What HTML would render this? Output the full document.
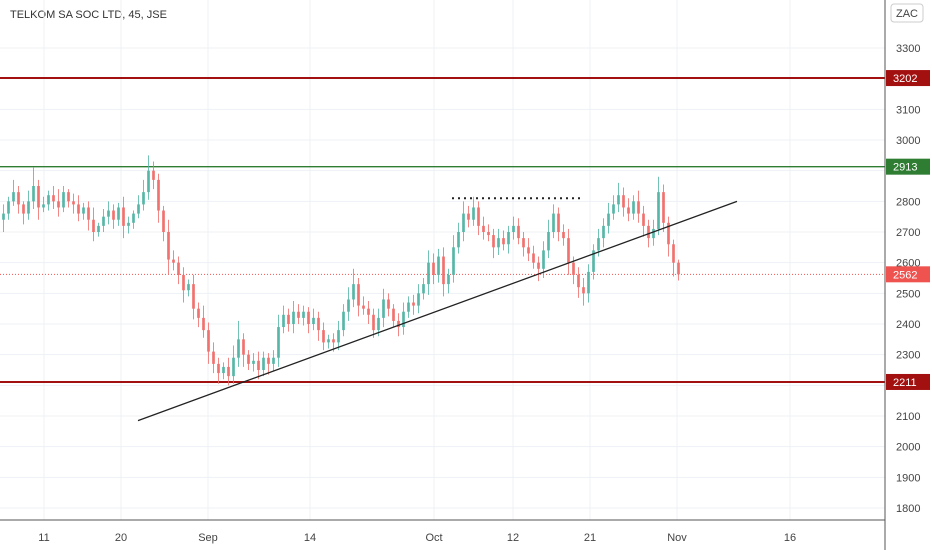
<!DOCTYPE html>
<html><head><meta charset="utf-8"><style>
body{margin:0;background:#fff;font-family:"Liberation Sans",sans-serif}
svg{display:block}
</style></head><body>
<svg id="c" width="932" height="550" xmlns="http://www.w3.org/2000/svg">
<text x="10" y="18" font-size="11" fill="#333">TELKOM SA SOC LTD, 45, JSE</text>
</svg>
<script>
const closes=[2760,2800,2830,2790,2760,2800,2850,2780,2790,2820,2800,2780,2830,2800,2790,2760,2780,2740,2700,2720,2750,2770,2740,2780,2720,2730,2760,2790,2830,2900,2870,2770,2700,2610,2600,2560,2510,2530,2450,2420,2380,2310,2270,2240,2260,2230,2290,2350,2300,2270,2280,2250,2290,2270,2290,2390,2430,2400,2440,2420,2440,2400,2420,2380,2340,2350,2340,2380,2440,2480,2530,2460,2450,2430,2380,2420,2480,2450,2410,2390,2440,2470,2460,2500,2530,2600,2560,2620,2530,2560,2650,2700,2760,2740,2780,2720,2700,2690,2650,2680,2660,2700,2720,2680,2650,2630,2600,2580,2640,2700,2760,2700,2680,2600,2560,2520,2500,2570,2640,2680,2720,2760,2790,2820,2780,2760,2800,2760,2720,2680,2710,2830,2730,2660,2600,2562];
const wickUp=[30,15,40,20,10,35,60,20,25,15,30,40,20,10,25,30,15,20,40,10,25,30,20,15,35,20,10,30,40,50,30,20,15,40,30,20,25,15,30,20,40,25,30,20,15,30,40,60,20,15,25,30,20,15,25,40,30,20,35,25,20,15,30,20,25,15,20,30,25,40,50,20,30,25,20,30,35,20,15,25,30,20,25,30,20,40,30,25,30,20,40,30,40,25,35,20,30,25,20,30,25,20,30,25,20,30,25,20,30,40,30,20,25,30,20,25,30,25,20,30,25,35,30,40,25,30,20,35,25,20,30,50,25,20,15,10];
const wickDn=[40,20,15,30,35,20,25,40,15,20,25,30,15,20,30,25,20,35,30,15,20,25,30,20,40,25,20,15,20,25,30,40,30,50,25,30,40,20,35,30,25,40,30,35,20,30,25,30,40,20,25,30,20,35,25,30,20,25,30,20,25,30,20,35,25,20,30,25,20,30,25,35,20,30,25,20,30,25,20,30,25,20,30,25,20,35,30,25,40,30,25,20,30,25,20,30,25,20,35,25,20,30,25,20,30,25,20,40,30,25,20,30,25,40,30,35,40,30,25,20,30,25,20,25,30,25,20,30,35,30,25,20,30,40,45,20];
const xTicks=["11","20","Sep","14","Oct","12","21","Nov","16"];
const xTickPos=[44,121,208,310,434,513,590,677,790];
const yTicks=[1800,1900,2000,2100,2200,2300,2400,2500,2600,2700,2800,2900,3000,3100,3200,3300];
const levels=[3202,2913,2211];
const levelColors=["#a31010","#2f7d32","#a31010"];
const lastPrice=2562;
const trendPts=[[0,2085],[1,2800]];
const resistance=2810;

const NS="http://www.w3.org/2000/svg";
const svg=document.getElementById('c');
const W=885,H=520;
const y=p=>48+(3300-p)*460/1500;
const xi=i=>2+i*5;
function mk(t,a,parent){const e=document.createElementNS(NS,t);for(const k in a)e.setAttribute(k,a[k]);(parent||svg).appendChild(e);return e;}
const grid=mk('g',{});


yTicks.forEach(p=>{mk('line',{x1:0,x2:W,y1:y(p),y2:y(p),stroke:'#edf1f5'},grid);});
xTickPos.forEach(x=>{mk('line',{x1:x,x2:x,y1:0,y2:H,stroke:'#edf1f5'},grid);});
// levels
levels.forEach((p,k)=>{const l=mk('line',{x1:0,x2:W,y1:y(p),y2:y(p),stroke:levelColors[k],'stroke-width':k==1?1.3:2});

});
const lp=mk('line',{x1:0,x2:W,y1:y(lastPrice),y2:y(lastPrice),stroke:'#ef5350','stroke-dasharray':'1,2'});


// candles
const cg=mk('g',{});


closes.forEach((c,i)=>{
 const o=i?closes[i-1]:c-20;
 const up=c>=o, col=up?'#4fb3a4':'#ef6b68';
 const hi=Math.max(o,c)+wickUp[i], lo=Math.min(o,c)-wickDn[i], x=xi(i);
 const g=mk('g',{},cg);
 
 
 mk('line',{x1:x+1.5,x2:x+1.5,y1:y(hi),y2:y(lo),stroke:col,'stroke-width':1,opacity:0.8},g);
 mk('rect',{x:x,y:y(Math.max(o,c)),width:3,height:Math.max(1,Math.abs(y(o)-y(c))),fill:col,opacity:0.8},g);
});
// trend line
const tl=mk('line',{x1:138,y1:y(trendPts[0][1]),x2:737,y2:y(trendPts[1][1]),stroke:'#222','stroke-width':1.3});


const rl=mk('line',{x1:452,x2:580,y1:y(resistance),y2:y(resistance),stroke:'#222','stroke-width':2,'stroke-dasharray':'2,4'});


// axes
mk('line',{x1:W,x2:W,y1:0,y2:550,stroke:'#555'});
mk('line',{x1:0,x2:W,y1:H,y2:H,stroke:'#555'});
yTicks.forEach(p=>{const t=mk('text',{x:896,y:y(p)+4,'font-size':11,fill:'#444'});t.textContent=p;

});
xTicks.forEach((s,k)=>{const t=mk('text',{x:xTickPos[k],y:541,'font-size':11,fill:'#444','text-anchor':'middle'});t.textContent=s;

});
// price tags
function tag(p,col){const g=mk('g',{});


mk('rect',{x:886,y:y(p)-8,width:44,height:16,fill:col},g);
const t=mk('text',{x:893,y:y(p)+4,'font-size':11,fill:'#fff'},g);t.textContent=p;}
tag(3202,'#a31010');tag(2913,'#2f7d32');tag(2211,'#a31010');tag(lastPrice,'#ef5350');
const zb=mk('g',{});


mk('rect',{x:891,y:4,width:32,height:18,rx:3,fill:'#fff',stroke:'#ccc'},zb);
const zt=mk('text',{x:907,y:17,'font-size':11,fill:'#444','text-anchor':'middle'},zb);zt.textContent='ZAC';
</script>
</body></html>
